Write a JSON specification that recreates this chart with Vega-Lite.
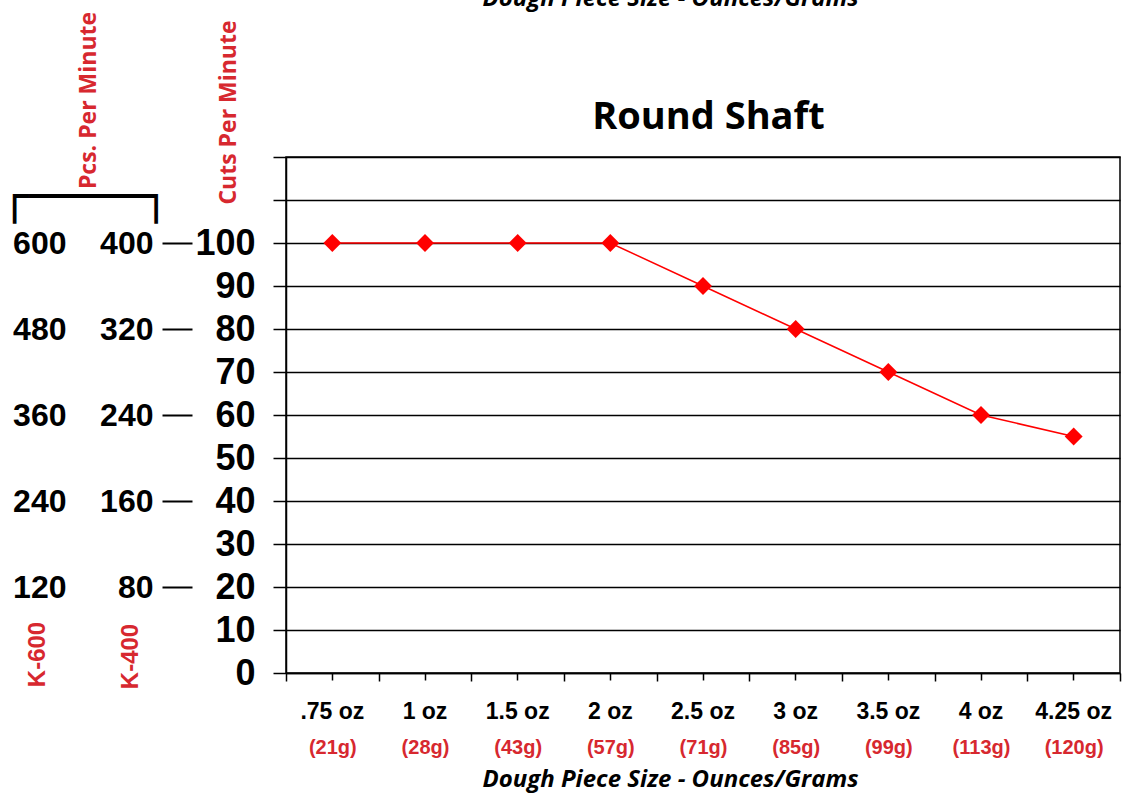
{
  "$schema": "https://vega.github.io/schema/vega-lite/v6.json",
  "autosize": {"type": "none"},
  "width": 834,
  "height": 516,
  "padding": {"left": 286, "top": 157, "right": 4, "bottom": 123},
  "config": {
    "font": "Liberation Sans",
    "view": {"stroke": "black", "strokeWidth": 1.5},
    "axis": {"labelColor": "black", "tickColor": "black", "domainColor": "black"}
  },
  "data": {
    "values": [
      {"label": ".75 oz|(21g)", "cuts": 100},
      {"label": "1 oz|(28g)", "cuts": 100},
      {"label": "1.5 oz|(43g)", "cuts": 100},
      {"label": "2 oz|(57g)", "cuts": 100},
      {"label": "2.5 oz|(71g)", "cuts": 90},
      {"label": "3 oz|(85g)", "cuts": 80},
      {"label": "3.5 oz|(99g)", "cuts": 70},
      {"label": "4 oz|(113g)", "cuts": 60},
      {"label": "4.25 oz|(120g)", "cuts": 55}
    ]
  },
  "layer": [
    {
      "mark": {
        "type": "line",
        "color": "#ff0000",
        "strokeWidth": 1.5,
        "point": {"shape": "diamond", "size": 320, "filled": true, "color": "#ff0000", "opacity": 1}
      },
      "encoding": {
        "x": {
          "field": "label",
          "type": "nominal",
          "sort": null,
          "scale": {"type": "band", "paddingInner": 0, "paddingOuter": 0},
          "axis": {
            "orient": "bottom",
            "labelExpr": "split(datum.label, '|')[0]",
            "labelAngle": 0,
            "labelFontSize": 23,
            "labelFontWeight": "bold",
            "labelPadding": 20,
            "tickSize": 7,
            "tickWidth": 1.5,
            "domainWidth": 1.5,
            "title": "Dough Piece Size - Ounces/Grams",
            "titleFont": "Open Sans",
            "titleFontSize": 24,
            "titleFontWeight": "bold",
            "titleFontStyle": "italic",
            "titleColor": "black",
            "titleX": 384,
            "titleY": 113,
            "titleAlign": "center",
            "titleBaseline": "alphabetic"
          }
        },
        "y": {
          "field": "cuts",
          "type": "quantitative",
          "scale": {"domain": [0, 120], "nice": false, "zero": true},
          "axis": {
            "values": [0, 10, 20, 30, 40, 50, 60, 70, 80, 90, 100, 110, 120],
            "labelExpr": "datum.value > 100 ? '' : datum.label",
            "labelFontSize": 36,
            "labelFontWeight": "bold",
            "labelPadding": 18,
            "tickSize": 13,
            "tickWidth": 1.5,
            "domainWidth": 1.5,
            "grid": true,
            "gridColor": "black",
            "gridWidth": 1.3,
            "gridOpacity": 1,
            "title": "Cuts Per Minute",
            "titleFont": "Open Sans",
            "titleFontSize": 23,
            "titleFontWeight": "bold",
            "titleColor": "#d7282f",
            "titleAngle": -90,
            "titleAlign": "center",
            "titleBaseline": "middle",
            "titleX": -58,
            "titleY": -45
          }
        }
      }
    },
    {
      "mark": {"type": "point", "opacity": 0},
      "encoding": {
        "x": {
          "field": "label",
          "type": "nominal",
          "sort": null,
          "axis": {
            "orient": "bottom",
            "labelExpr": "split(datum.label, '|')[1]",
            "labelAngle": 0,
            "labelColor": "#d7282f",
            "labelFontSize": 20,
            "labelFontWeight": "bold",
            "labelPadding": 56,
            "tickBand": "extent",
            "tickSize": 8,
            "tickWidth": 1.5,
            "domain": false,
            "title": "┌────┐",
            "titleFont": "DejaVu Sans Mono",
            "titleFontSize": 47,
            "titleFontWeight": "normal",
            "titleColor": "black",
            "titleX": -201,
            "titleY": -462,
            "titleAlign": "center",
            "titleBaseline": "alphabetic"
          }
        },
        "y": {
          "field": "cuts",
          "type": "quantitative",
          "scale": {"domain": [0, 480], "nice": false, "zero": true},
          "axis": {
            "orient": "left",
            "offset": 94,
            "values": [80, 160, 240, 320, 400],
            "labelFontSize": 32,
            "labelFontWeight": "bold",
            "labelPadding": 9,
            "tickSize": 30,
            "tickWidth": 2,
            "domain": false,
            "grid": false,
            "title": "K-400",
            "titleFontSize": 24,
            "titleFontWeight": "bold",
            "titleColor": "#d7282f",
            "titleAngle": -90,
            "titleAlign": "center",
            "titleBaseline": "middle",
            "titleX": -62,
            "titleY": 499
          }
        }
      }
    },
    {
      "mark": {"type": "point", "opacity": 0},
      "encoding": {
        "x": {
          "field": "label",
          "type": "nominal",
          "sort": null,
          "axis": {
            "orient": "top",
            "labels": false,
            "ticks": false,
            "domain": false,
            "title": "Dough Piece Size - Ounces/Grams",
            "titleFont": "Open Sans",
            "titleFontSize": 24,
            "titleFontWeight": "bold",
            "titleFontStyle": "italic",
            "titleColor": "black",
            "titleX": 384,
            "titleY": -152,
            "titleAlign": "center",
            "titleBaseline": "alphabetic"
          }
        },
        "y": {
          "field": "cuts",
          "type": "quantitative",
          "scale": {"domain": [0, 720], "nice": false, "zero": true},
          "axis": {
            "orient": "left",
            "offset": 220,
            "values": [120, 240, 360, 480, 600],
            "labelFontSize": 32,
            "labelFontWeight": "bold",
            "labelPadding": 0,
            "ticks": false,
            "domain": false,
            "grid": false,
            "title": "K-600",
            "titleFontSize": 24,
            "titleFontWeight": "bold",
            "titleColor": "#d7282f",
            "titleAngle": -90,
            "titleAlign": "center",
            "titleBaseline": "middle",
            "titleX": -29,
            "titleY": 497
          }
        }
      }
    },
    {
      "mark": {"type": "point", "opacity": 0},
      "encoding": {
        "x": {
          "field": "label",
          "type": "nominal",
          "sort": null,
          "axis": {
            "orient": "top",
            "labels": false,
            "ticks": false,
            "domain": false,
            "title": "Round Shaft",
            "titleFont": "Open Sans",
            "titleFontSize": 38,
            "titleFontWeight": "bold",
            "titleColor": "black",
            "titleX": 422,
            "titleY": -29,
            "titleAlign": "center",
            "titleBaseline": "alphabetic"
          }
        },
        "y": {
          "field": "cuts",
          "type": "quantitative",
          "scale": {"domain": [0, 120], "nice": false, "zero": true},
          "axis": {
            "orient": "left",
            "offset": 0,
            "labels": false,
            "ticks": false,
            "domain": false,
            "grid": false,
            "title": "Pcs. Per Minute",
            "titleFont": "Open Sans",
            "titleFontSize": 23,
            "titleFontWeight": "bold",
            "titleColor": "#d7282f",
            "titleAngle": -90,
            "titleAlign": "center",
            "titleBaseline": "middle",
            "titleX": -198,
            "titleY": -57
          }
        }
      }
    }
  ],
  "resolve": {
    "scale": {"y": "independent"},
    "axis": {"x": "independent", "y": "independent"}
  }
}
